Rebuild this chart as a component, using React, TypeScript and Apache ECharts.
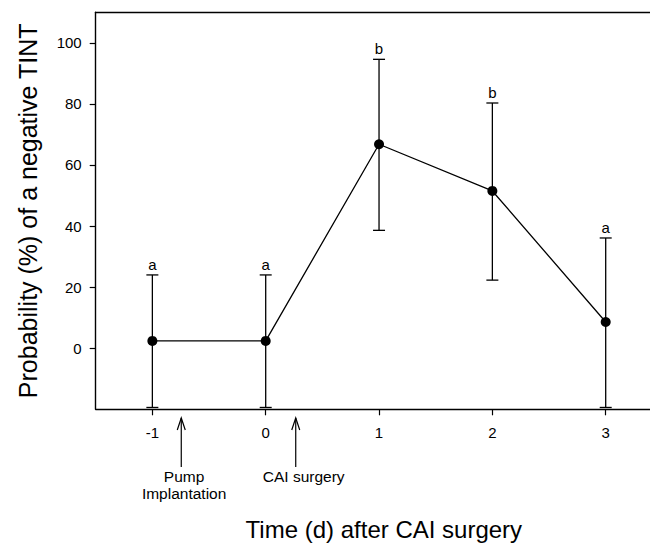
import React, { useEffect, useRef } from "react";
import * as echarts from "echarts";

const days = [-1, 0, 1, 2, 3];
const probability = [2.4, 2.4, 66.8, 51.5, 8.6];
const upperCI = [24, 24, 94.6, 80.3, 36.1];
const lowerCI = [-19.4, -19.4, 38.6, 22.3, -19.4];
const groupLetters = ["a", "a", "b", "b", "a"];
const eventDays = [-0.745, 0.265];
const eventLabelDays = [-0.72, 0.335];
const eventLabels = ["Pump\nImplantation", "CAI surgery"];
const xTicks = [-1, 0, 1, 2, 3];
const yTicks = [0, 20, 40, 60, 80, 100];

const FONT = '"Liberation Sans", Arial, sans-serif';

export default function App() {
  const ref = useRef<HTMLDivElement>(null);
  useEffect(() => {
    if (!ref.current) return;
    const chart = echarts.init(ref.current, null, { renderer: "svg" });
    const xMin = -1.5;
    const xMax = 3.585;
    const yMin = -20;
    const yMax = 110;
    chart.setOption({
      animation: false,
      textStyle: { fontFamily: FONT },
      grid: {
        left: 95.7,
        top: 12.3,
        right: -22,
        bottom: 134.7,
        containLabel: false,
        outerBoundsMode: "none",
      },
      xAxis: [
        {
          type: "value",
          min: xMin,
          max: xMax,
          position: "bottom",
          axisLine: { show: true, onZero: false, lineStyle: { color: "#000", width: 1.4 } },
          axisTick: { show: true, customValues: xTicks, length: 6, lineStyle: { color: "#000", width: 1.2 } },
          axisLabel: {
            show: true,
            customValues: xTicks,
            color: "#000",
            fontSize: 15,
            fontFamily: FONT,
            margin: 16,
          },
          splitLine: { show: false },
          name: "Time (d) after CAI surgery",
          nameLocation: "middle",
          nameGap: 108,
          nameTextStyle: { fontSize: 24, color: "#000", fontFamily: FONT },
        },
        {
          type: "value",
          min: xMin,
          max: xMax,
          position: "top",
          axisLine: { show: true, onZero: false, lineStyle: { color: "#000", width: 1.4 } },
          axisTick: { show: false },
          axisLabel: { show: false },
          splitLine: { show: false },
        },
      ],
      yAxis: {
        type: "value",
        min: yMin,
        max: yMax,
        axisLine: { show: true, onZero: false, lineStyle: { color: "#000", width: 1.4 } },
        axisTick: { show: true, customValues: yTicks, length: 6, lineStyle: { color: "#000", width: 1.2 } },
        axisLabel: {
          show: true,
          customValues: yTicks,
          color: "#000",
          fontSize: 15,
          fontFamily: FONT,
          margin: 14,
        },
        splitLine: { show: false },
        name: "Probability (%) of a negative TINT",
        nameLocation: "middle",
        nameGap: 55,
        nameTextStyle: { fontSize: 25, color: "#000", fontFamily: FONT },
      },
      series: [
        {
          type: "custom",
          name: "errors",
          xAxisIndex: 0,
          z: 1,
          clip: false,
          data: days.map((d, i) => [d, lowerCI[i], upperCI[i]]),
          renderItem: (params: any, api: any) => {
            const x = api.value(0);
            const lo = api.value(1);
            const hi = api.value(2);
            const top = api.coord([x, hi]);
            const bot = api.coord([x, lo]);
            const half = 6;
            const st = { stroke: "#000", lineWidth: 1.3 };
            return {
              type: "group",
              children: [
                { type: "line", shape: { x1: top[0], y1: top[1], x2: bot[0], y2: bot[1] }, style: st },
                { type: "line", shape: { x1: top[0] - half, y1: top[1], x2: top[0] + half, y2: top[1] }, style: st },
                { type: "line", shape: { x1: bot[0] - half, y1: bot[1], x2: bot[0] + half, y2: bot[1] }, style: st },
                {
                  type: "text",
                  x: top[0],
                  y: top[1] - 3,
                  style: {
                    text: groupLetters[params.dataIndex],
                    fill: "#000",
                    fontSize: 15,
                    fontFamily: FONT,
                    align: "center",
                    verticalAlign: "bottom",
                  },
                },
              ],
            };
          },
        },
        {
          type: "line",
          name: "probability",
          xAxisIndex: 0,
          z: 3,
          data: days.map((d, i) => [d, probability[i]]),
          symbol: "circle",
          symbolSize: 10,
          itemStyle: { color: "#000" },
          lineStyle: { color: "#000", width: 1.3 },
        },
        {
          type: "custom",
          name: "events",
          xAxisIndex: 0,
          clip: false,
          silent: true,
          data: eventDays.map((d, i) => [d, yMin, eventLabelDays[i]]),
          renderItem: (params: any, api: any) => {
            const base = api.coord([api.value(0), api.value(1)]);
            const labelPos = api.coord([api.value(2), api.value(1)]);
            const x = base[0];
            const y0 = base[1] + 8.7;
            const y1 = base[1] + 57.7;
            const st = { stroke: "#000", lineWidth: 1.2, fill: "none" };
            return {
              type: "group",
              children: [
                { type: "line", shape: { x1: x, y1: y0, x2: x, y2: y1 }, style: st },
                { type: "polyline", shape: { points: [[x - 4, y0 + 12], [x, y0], [x + 4, y0 + 12]] }, style: st },
                {
                  type: "text",
                  x: labelPos[0],
                  y: base[1] + 58.5,
                  style: {
                    text: eventLabels[params.dataIndex],
                    fill: "#000",
                    fontSize: 15.5,
                    lineHeight: 17,
                    fontFamily: FONT,
                    align: "center",
                    verticalAlign: "top",
                  },
                },
              ],
            };
          },
        },
      ],
    });
    return () => chart.dispose();
  }, []);
  return (
    <div
      ref={ref}
      style={{ position: "absolute", left: 0, top: 0, width: 650, height: 544, background: "#fff", overflow: "hidden" }}
    />
  );
}
